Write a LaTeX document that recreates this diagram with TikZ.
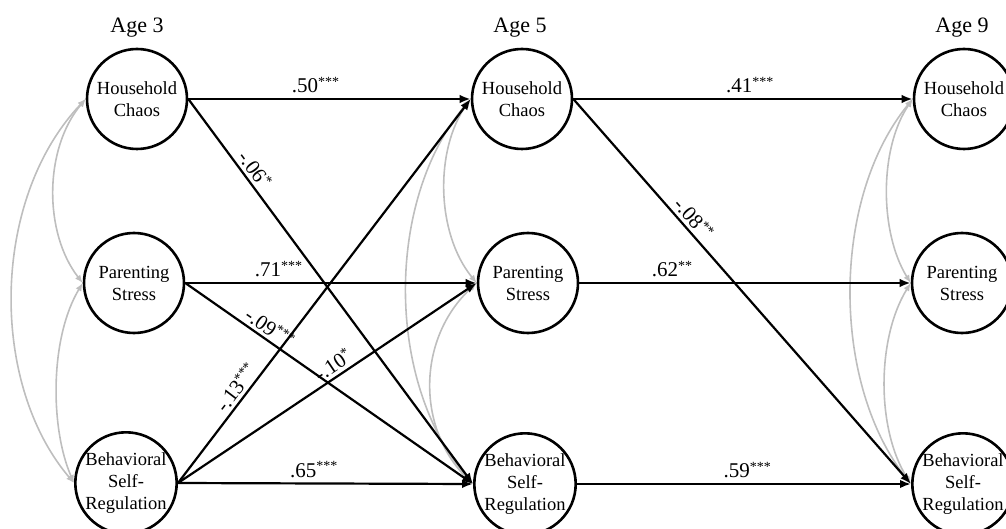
\documentclass[tikz,border=0pt]{standalone}
\usepackage{fontspec}
\setmainfont{Liberation Serif}
\usetikzlibrary{arrows.meta}
\definecolor{covgrey}{RGB}{190,190,190}
\newcommand\stars[1]{\raisebox{6.5pt}{\fontsize{14}{14}\selectfont #1}}
\begin{document}
\begin{tikzpicture}[x=1pt,y=-1pt,
  latent/.style={circle,draw,line width=2.6pt,minimum size=100pt,inner sep=0pt,align=center,font=\fontsize{18.5}{22}\selectfont},
  reg/.style={line width=2.2pt,-{Latex[length=11pt,width=8.5pt]}},
  cov/.style={draw=covgrey,line width=1.6pt,{Latex[length=8pt,width=6.5pt]}-{Latex[length=8pt,width=6.5pt]}},
  coef/.style={font=\fontsize{21}{21}\selectfont,inner sep=2pt},
  agelab/.style={font=\fontsize{22}{22}\selectfont,anchor=base}]
\useasboundingbox (0,0) rectangle (1006,529);

% age labels
\node[agelab] (a3) at (137,33) {Age 3};
\node[agelab] (a5) at (520,33) {Age 5};
\node[agelab] (a9) at (962,33) {Age 9};

% latent variables
\node[latent] (hc3) at (137,99) {Household\\Chaos};
\node[latent] (ps3) at (134,283) {Parenting\\Stress};
\node[latent] (bs3) at (126,483) {Behavioral\\Self-\\Regulation};
\node[latent] (hc5) at (522,99) {Household\\Chaos};
\node[latent] (ps5) at (528,283) {Parenting\\Stress};
\node[latent] (bs5) at (525,484) {Behavioral\\Self-\\Regulation};
\node[latent] (hc9) at (964,99) {Household\\Chaos};
\node[latent] (ps9) at (962,283) {Parenting\\Stress};
\node[latent] (bs9) at (963,484) {Behavioral\\Self-\\Regulation};

% covariances
\draw[cov] (hc3.west) .. controls +(-95,100) and +(-85,-100) .. (bs3.west);
\draw[cov] (hc3.west) .. controls +(-42,50) and +(-39,-50) .. (ps3.west);
\draw[cov] (ps3.west) .. controls +(-33,55) and +(-24,-55) .. (bs3.west);

\draw[cov] (hc5.west) .. controls +(-86,100) and +(-88,-100) .. (bs5.west);
\draw[cov] (hc5.west) .. controls +(-36,50) and +(-41,-50) .. (ps5.west);
\draw[cov] (ps5.west) .. controls +(-60,55) and +(-57,-55) .. (bs5.west);

\draw[cov] (hc9.west) .. controls +(-82,100) and +(-80,-100) .. (bs9.west);
\draw[cov] (hc9.west) .. controls +(-34,50) and +(-31,-50) .. (ps9.west);
\draw[cov] (ps9.west) .. controls +(-34,55) and +(-35,-55) .. (bs9.west);

% regressions age 3 -> age 5
\draw[reg] (hc3.east) -- node[coef,above=3pt,pos=0.45]{.50\stars{***}} (hc5.west);
\draw[reg] (ps3.east) -- node[coef,above=3pt,pos=0.32]{.71\stars{***}} (ps5.west);
\draw[reg] (bs3.east) -- node[coef,above=3pt,pos=0.46]{.65\stars{***}} (bs5.west);
\draw[reg] (hc3.east) -- node[coef,above=1pt,sloped,pos=0.2]{-.06\stars{*}} (bs5.west);
\draw[reg] (ps3.east) -- node[coef,above=1pt,sloped,pos=0.27]{-.09\stars{***}} (bs5.west);
\draw[reg] (bs3.east) -- node[coef,above=1pt,sloped,pos=0.23]{-.13\stars{***}} (hc5.west);
\draw[reg] (bs3.east) -- node[coef,above=1pt,sloped,pos=0.54]{-.10\stars{*}} (ps5.west);

% regressions age 5 -> age 9
\draw[reg] (hc5.east) -- node[coef,above=3pt,pos=0.52]{.41\stars{***}} (hc9.west);
\draw[reg] (ps5.east) -- node[coef,above=3pt,pos=0.28]{.62\stars{**}} (ps9.west);
\draw[reg] (bs5.east) -- node[coef,above=3pt,pos=0.51]{.59\stars{***}} (bs9.west);
\draw[reg] (hc5.east) -- node[coef,above=1pt,sloped,pos=0.33]{-.08\stars{**}} (bs9.west);
\end{tikzpicture}
\end{document}
